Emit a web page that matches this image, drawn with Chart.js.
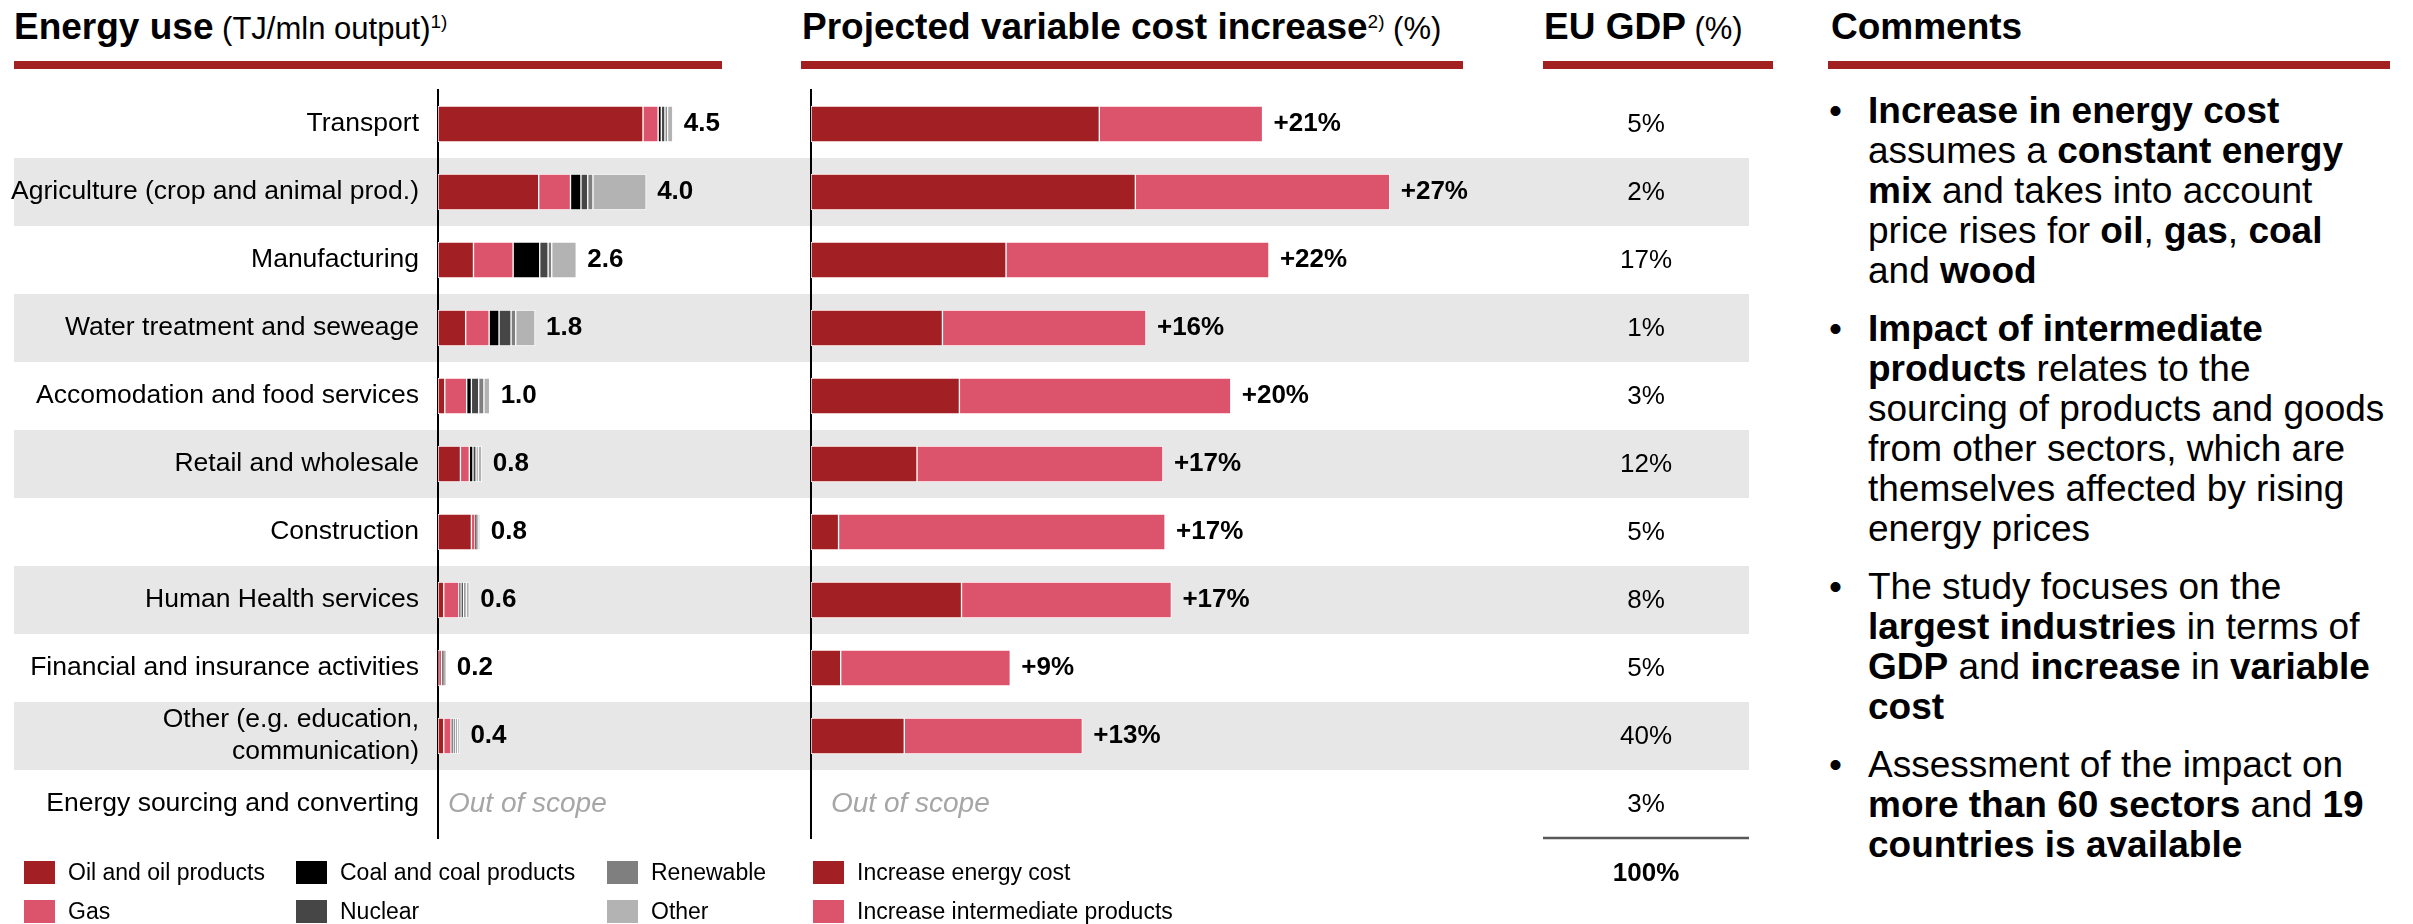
<!DOCTYPE html>
<html>
<head>
<meta charset="utf-8">
<script src="https://cdn.jsdelivr.net/npm/chart.js@4.4.1/dist/chart.umd.min.js"></script>
<style>
  body { margin: 0; background: #fff; font-family: "Liberation Sans", Arial, sans-serif; color: #000; }
  #page { position: relative; width: 2413px; height: 924px; overflow: hidden; }
  canvas { position: absolute; top: 0; }
  .title { position: absolute; top: 8px; white-space: nowrap; line-height: 37px; font-size: 31px; }
  .title b { font-size: 37px; }
  .title sup { font-size: 19px; vertical-align: 11px; line-height: 0; }
  .rule { position: absolute; top: 61px; height: 8px; background: #A32020; }
  .comments { position: absolute; left: 1829px; top: 91px; font-size: 37px; line-height: 40px; }
  .comments div { position: relative; padding-left: 39px; margin-bottom: 18px; white-space: nowrap; }
  .comments div::before { content: "\2022"; position: absolute; left: 0; }
  .leg { position: absolute; font-size: 23px; line-height: 23px; white-space: nowrap; }
  .leg span { display: inline-block; width: 31px; height: 23px; vertical-align: top; margin-right: 13px; }
</style>
</head>
<body>
<div id="page">
  <div class="title" style="left:14px"><b>Energy use</b> (TJ/mln output)<sup>1)</sup></div>
  <div class="rule" style="left:14px;width:708px"></div>
  <div class="title" style="left:802px"><b>Projected variable cost increase</b><sup>2)</sup> (%)</div>
  <div class="rule" style="left:801px;width:662px"></div>
  <div class="title" style="left:1544px"><b>EU GDP</b> (%)</div>
  <div class="rule" style="left:1543px;width:230px"></div>
  <div class="title" style="left:1831px"><b>Comments</b></div>
  <div class="rule" style="left:1828px;width:562px"></div>

  <canvas id="energy" width="790" height="924" style="left:0"></canvas>
  <canvas id="cost" width="1010" height="924" style="left:790px"></canvas>

  <div class="comments">
    <div><b>Increase in energy cost</b><br>assumes a <b>constant energy</b><br><b>mix</b> and takes into account<br>price rises for <b>oil</b>, <b>gas</b>, <b>coal</b><br>and <b>wood</b></div>
    <div><b>Impact of intermediate</b><br><b>products</b> relates to the<br>sourcing of products and goods<br>from other sectors, which are<br>themselves affected by rising<br>energy prices</div>
    <div>The study focuses on the<br><b>largest industries</b> in terms of<br><b>GDP</b> and <b>increase</b> in <b>variable</b><br><b>cost</b></div>
    <div>Assessment of the impact on<br><b>more than 60 sectors</b> and <b>19</b><br><b>countries is available</b></div>
  </div>
</div>

<script>
const FONT = '"Liberation Sans", Arial, sans-serif';

const sectors = [
  "Transport",
  "Agriculture (crop and animal prod.)",
  "Manufacturing",
  "Water treatment and seweage",
  "Accomodation and food services",
  "Retail and wholesale",
  "Construction",
  "Human Health services",
  "Financial and insurance activities",
  ["Other (e.g. education,", "communication)"],
  "Energy sourcing and converting"
];

// energy use (TJ/mln output), split by source
const oilUse       = [3.93, 1.93, 0.68, 0.53, 0.13, 0.43, 0.64, 0.11, 0.01, 0.11, null];
const gasUse       = [0.29, 0.61, 0.76, 0.45, 0.42, 0.17, 0.07, 0.29, 0.06, 0.14, null];
const coalUse      = [0.06, 0.20, 0.51, 0.19, 0.09, 0.07, 0.02, 0.04, 0.02, 0.04, null];
const nuclearUse   = [0.07, 0.13, 0.16, 0.23, 0.14, 0.06, 0.02, 0.05, 0.02, 0.04, null];
const renewableUse = [0.05, 0.10, 0.07, 0.09, 0.10, 0.04, 0.02, 0.05, 0.02, 0.04, null];
const otherUse     = [0.10, 1.02, 0.47, 0.37, 0.11, 0.07, 0.03, 0.06, 0.02, 0.04, null];
const energyTotals = ["4.5", "4.0", "2.6", "1.8", "1.0", "0.8", "0.8", "0.6", "0.2", "0.4"];

// projected variable cost increase (%)
const energyCostInc = [13.6, 15.3, 9.2, 6.2, 7.0, 5.0, 1.3, 7.1, 1.4, 4.4, null];
const intermInc     = [7.7, 12.0, 12.4, 9.6, 12.8, 11.6, 15.4, 9.9, 8.0, 8.4, null];
const costTotals    = ["+21%", "+27%", "+22%", "+16%", "+20%", "+17%", "+17%", "+17%", "+9%", "+13%"];

// share of EU GDP
const gdpShare = ["5%", "2%", "17%", "1%", "3%", "12%", "5%", "8%", "5%", "40%", "3%"];
const gdpTotal = "100%";

const energySeries = [
  { label: "Oil and oil products", data: oilUse, color: "#A21F23" },
  { label: "Gas", data: gasUse, color: "#DC546B" },
  { label: "Coal and coal products", data: coalUse, color: "#000000" },
  { label: "Nuclear", data: nuclearUse, color: "#464646" },
  { label: "Renewable", data: renewableUse, color: "#7F7F7F" },
  { label: "Other", data: otherUse, color: "#B3B3B3" }
];
const costSeries = [
  { label: "Increase energy cost", data: energyCostInc, color: "#A21F23" },
  { label: "Increase intermediate products", data: intermInc, color: "#DC546B" }
];

function toDatasets(series) {
  return series.map(s => ({
    label: s.label,
    data: s.data,
    backgroundColor: s.color,
    borderColor: "#fff",
    borderWidth: 1,
    borderSkipped: false,
    barThickness: 36
  }));
}

function bandPlugin(x0, x1) {
  return {
    id: "bands",
    beforeDraw(chart) {
      const y = chart.scales.y, ctx = chart.ctx;
      const h = (y.bottom - y.top) / sectors.length;
      ctx.save();
      ctx.fillStyle = "#E7E7E7";
      sectors.forEach((s, i) => {
        if (i % 2 === 1) ctx.fillRect(x0, y.getPixelForValue(i) - h / 2, x1 - x0, h);
      });
      ctx.restore();
    }
  };
}

function totalsPlugin(texts, scopeOffset) {
  return {
    id: "totals",
    afterDatasetsDraw(chart) {
      const { ctx, chartArea } = chart;
      const x = chart.scales.x, y = chart.scales.y;
      ctx.save();
      ctx.textBaseline = "middle";
      ctx.textAlign = "left";
      sectors.forEach((s, i) => {
        const yy = y.getPixelForValue(i);
        if (i >= texts.length) {
          ctx.font = "italic 28px " + FONT;
          ctx.fillStyle = "#A6A6A6";
          ctx.fillText("Out of scope", chartArea.left + scopeOffset, yy);
          return;
        }
        const total = chart.data.datasets.reduce((a, d) => a + (d.data[i] || 0), 0);
        ctx.font = "bold 26px " + FONT;
        ctx.fillStyle = "#000";
        ctx.fillText(texts[i], x.getPixelForValue(total) + 11, yy);
      });
      ctx.restore();
    }
  };
}

const gdpPlugin = {
  id: "gdp",
  afterDraw(chart) {
    const { ctx } = chart;
    const y = chart.scales.y;
    const cx = 856;
    ctx.save();
    ctx.textAlign = "center";
    ctx.textBaseline = "middle";
    ctx.fillStyle = "#000";
    ctx.font = "26px " + FONT;
    gdpShare.forEach((v, i) => ctx.fillText(v, cx, y.getPixelForValue(i) + 1));
    ctx.strokeStyle = "#595959";
    ctx.lineWidth = 2.5;
    ctx.beginPath();
    ctx.moveTo(753, y.bottom);
    ctx.lineTo(959, y.bottom);
    ctx.stroke();
    ctx.font = "bold 26px " + FONT;
    ctx.fillText(gdpTotal, cx, y.bottom + 36);
    ctx.restore();
  }
};

function baseOptions(yWidth, xMax, padRight, showLabels) {
  return {
    indexAxis: "y",
    responsive: false,
    animation: false,
    devicePixelRatio: 1,
    layout: { padding: { top: 90, bottom: 86, left: 0, right: padRight } },
    plugins: { legend: { display: false }, tooltip: { enabled: false } },
    scales: {
      x: { stacked: true, min: 0, max: xMax, display: false },
      y: {
        stacked: true,
        grid: { display: false, drawTicks: false },
        border: { display: true, color: "#000", width: 2 },
        ticks: {
          display: showLabels,
          autoSkip: false,
          color: "#000",
          padding: 19,
          font: { size: 26.5, family: FONT, lineHeight: 1.2 }
        },
        afterFit(s) { s.width = yWidth; }
      }
    }
  };
}

new Chart(document.getElementById("energy"), {
  type: "bar",
  data: { labels: sectors, datasets: toDatasets(energySeries) },
  options: baseOptions(438, 6, 39, true),
  plugins: [bandPlugin(14, 790), totalsPlugin(energyTotals, 10)]
});

new Chart(document.getElementById("cost"), {
  type: "bar",
  data: { labels: sectors, datasets: toDatasets(costSeries) },
  options: baseOptions(21, 30, 353, false),
  plugins: [bandPlugin(0, 959), totalsPlugin(costTotals, 20), gdpPlugin]
});

// legends
const page = document.getElementById("page");
function addLegend(series, cols, rows) {
  series.forEach((s, i) => {
    const el = document.createElement("div");
    el.className = "leg";
    el.style.left = cols[Math.floor(i / rows.length)] + "px";
    el.style.top = rows[i % rows.length] + "px";
    el.innerHTML = '<span style="background:' + s.color + '"></span>' + s.label;
    page.appendChild(el);
  });
}
addLegend(energySeries, [24, 296, 607], [861, 900]);
addLegend(costSeries, [813], [861, 900]);
</script>
</body>
</html>
